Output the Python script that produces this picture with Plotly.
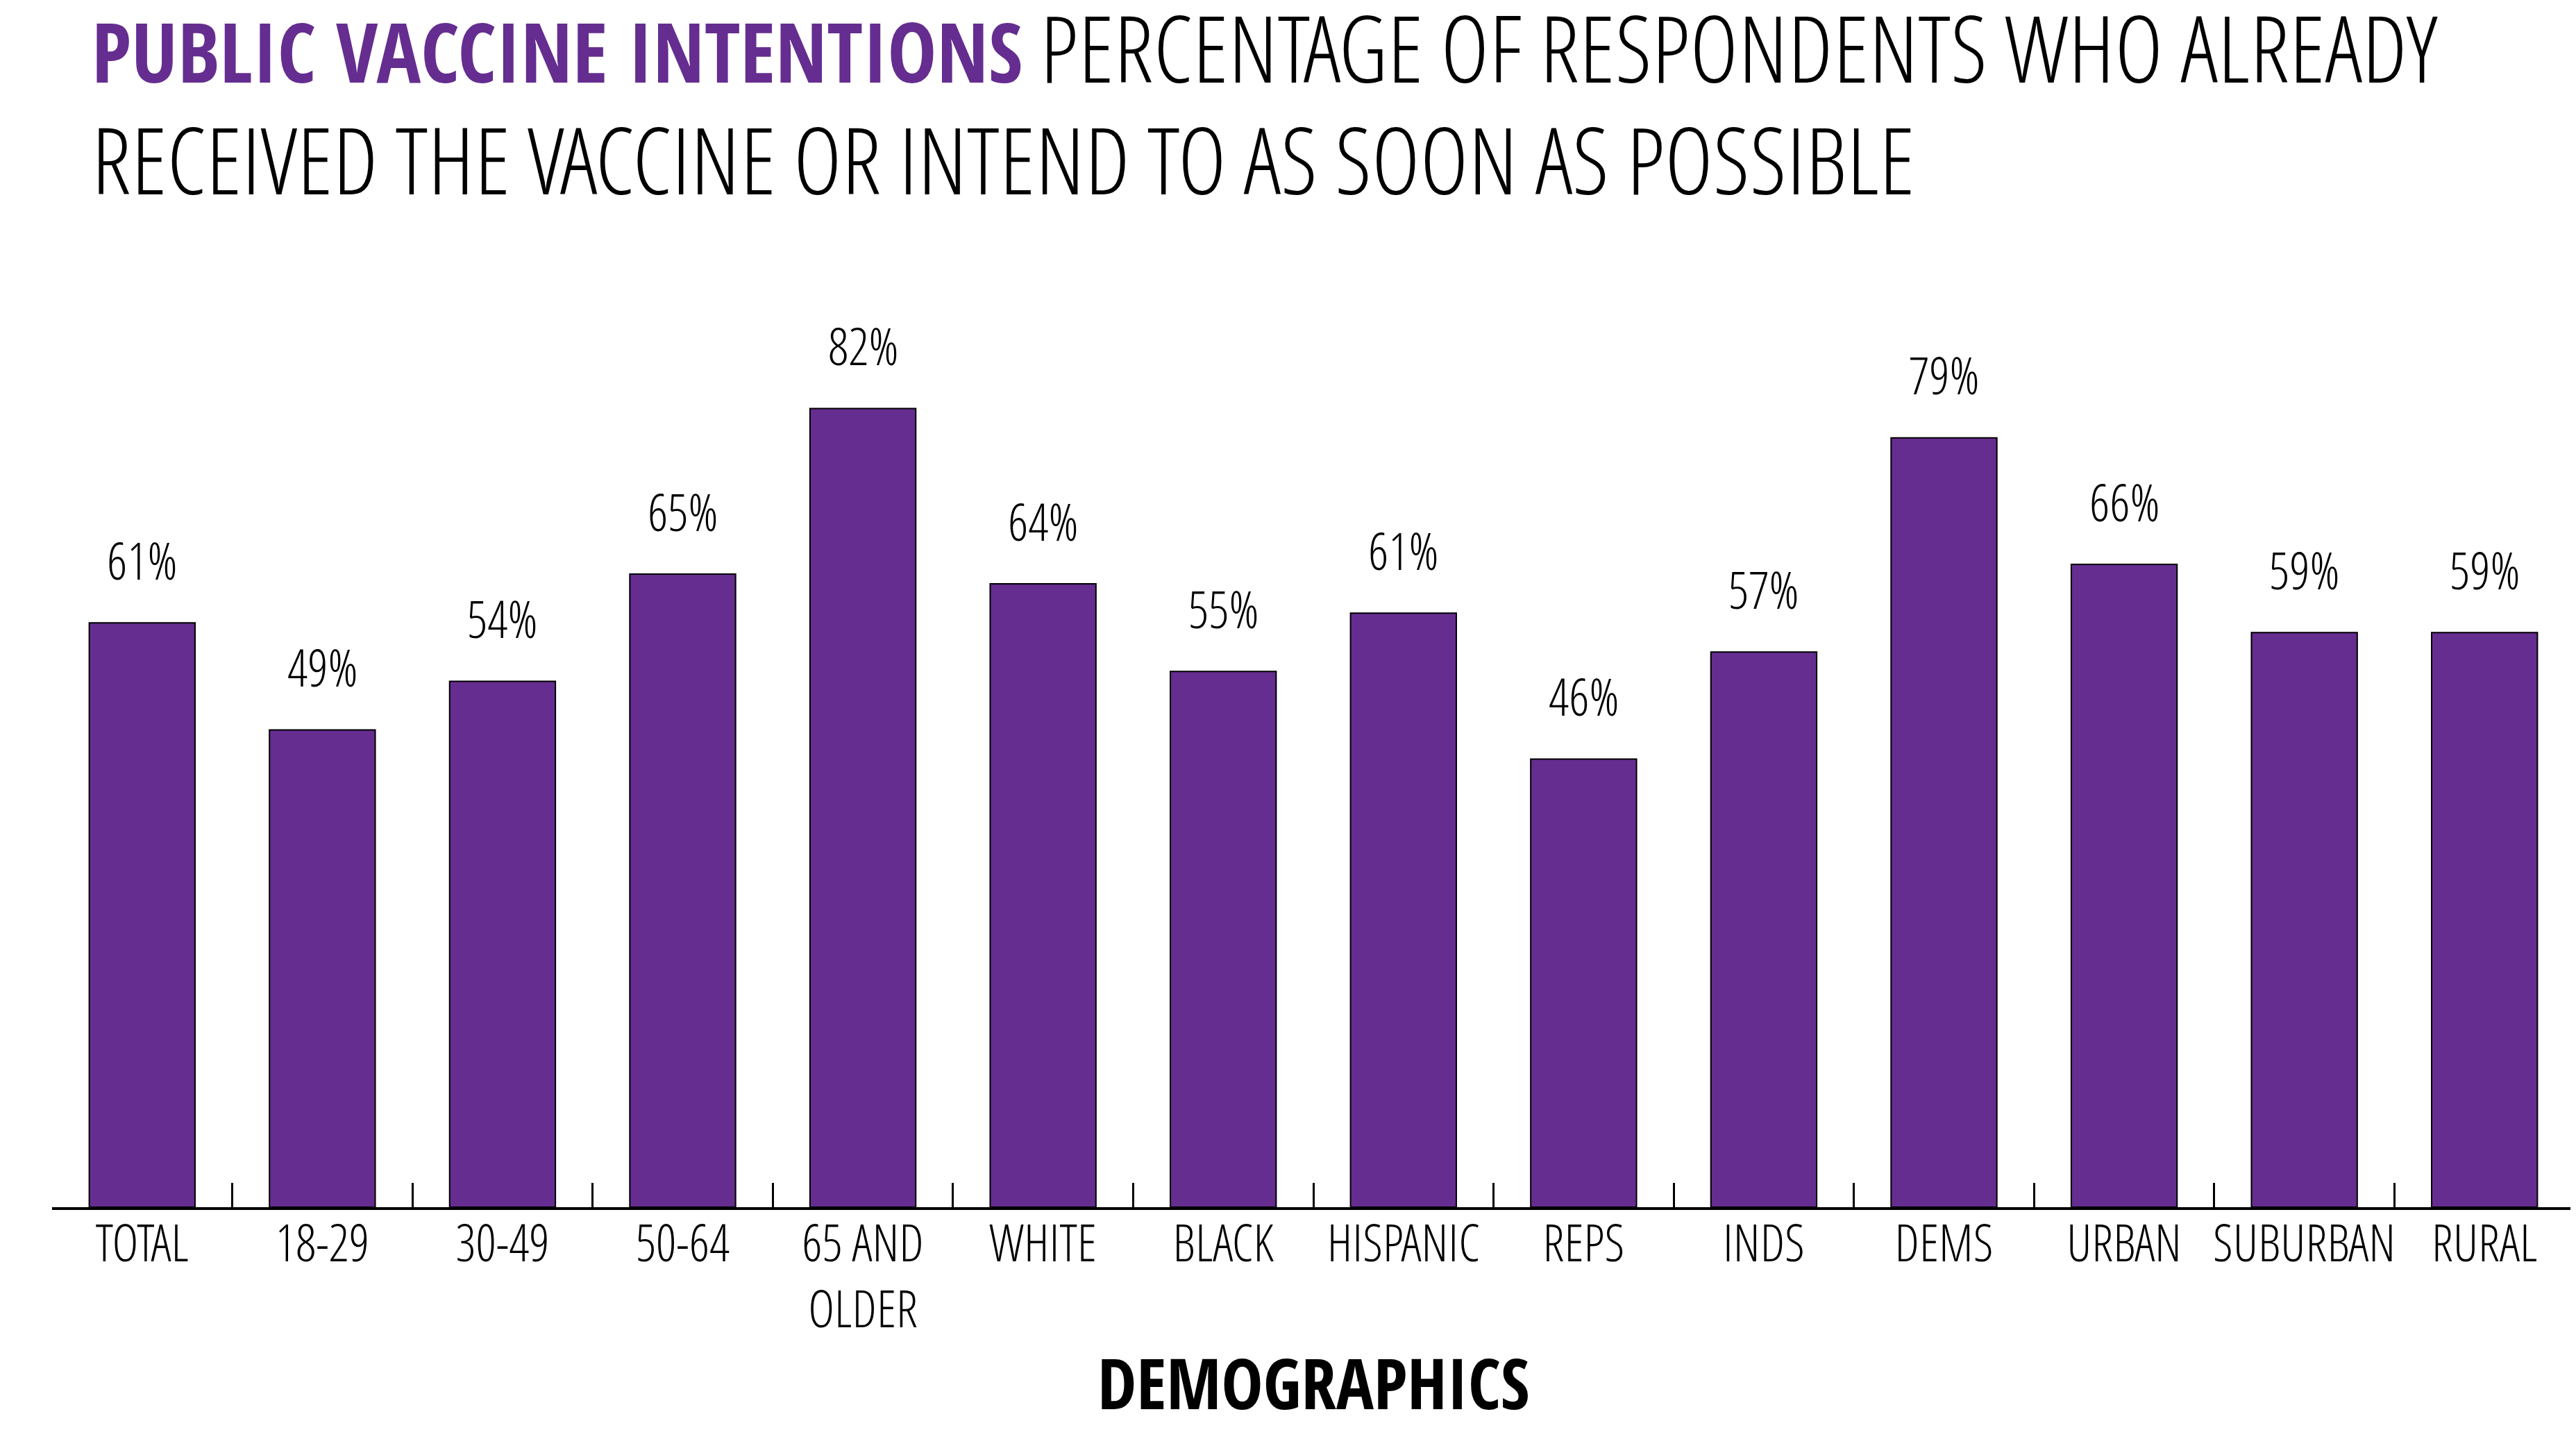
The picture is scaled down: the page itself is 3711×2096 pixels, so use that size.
import plotly.graph_objects as go

categories = ["TOTAL", "18-29", "30-49", "50-64", "65 AND<br>OLDER", "WHITE", "BLACK",
              "HISPANIC", "REPS", "INDS", "DEMS", "URBAN", "SUBURBAN", "RURAL"]
values = [60, 49, 54, 65, 82, 64, 55, 61, 46, 57, 79, 66, 59, 59]
labels = ["61%", "49%", "54%", "65%", "82%", "64%", "55%", "61%", "46%", "57%", "79%", "66%", "59%", "59%"]

PURPLE = "#652D90"
LIGHT = "Open Sans Condensed Light"
BOLD = "Open Sans Condensed"

# page body has an 8px margin; compensate so the picture lands where the reference does
OFF = 8
W, H = 3711 - OFF, 2096 - OFF
ML, MR, MT, MB = 75 - OFF, 2, 336 - OFF, 357
plot_h = H - MT - MB
plot_w = W - ML - MR


def py(px):
    """paper y for an absolute page-pixel y (reference coordinates)"""
    return 1 + (MT - (px - OFF)) / plot_h


def pxx(px):
    return (px - OFF - ML) / plot_w


xs = list(range(len(categories)))

fig = go.Figure()
fig.add_trace(go.Bar(
    x=xs, y=values,
    marker=dict(color=PURPLE, line=dict(color="black", width=2)),
    hoverinfo="skip",
))

anns = []
for xi, v, lab in zip(xs, values, labels):
    anns.append(dict(x=xi, y=v, xref="x", yref="y", text=lab, showarrow=False,
                     xanchor="center", yanchor="middle", yshift=91,
                     font=dict(family=LIGHT, size=73, color="black")))

anns.append(dict(
    x=pxx(130), y=py(67), xref="paper", yref="paper",
    xanchor="left", yanchor="middle", showarrow=False,
    text=('<span style="font-family:Open Sans Condensed;font-weight:bold;color:%s;font-size:119px">'
          'PUBLIC VACCINE INTENTIONS</span> PERCENTAGE OF RESPONDENTS WHO ALREADY') % PURPLE,
    font=dict(family=LIGHT, size=134, color="black")))
anns.append(dict(
    x=pxx(130), y=py(228), xref="paper", yref="paper",
    xanchor="left", yanchor="middle", showarrow=False,
    text="RECEIVED THE VACCINE OR INTEND TO AS SOON AS POSSIBLE",
    font=dict(family=LIGHT, size=134, color="black")))
anns.append(dict(
    x=0.5, y=py(1991), xref="paper", yref="paper",
    xanchor="center", yanchor="middle", showarrow=False,
    text="DEMOGRAPHICS",
    font=dict(family=BOLD, size=101, color="black")))

fig.update_layout(
    width=W, height=H,
    margin=dict(l=ML, r=MR, t=MT, b=MB),
    paper_bgcolor="white", plot_bgcolor="white",
    bargap=0.413,
    showlegend=False,
    annotations=anns,
    xaxis=dict(
        range=[-0.5, len(categories) - 0.5],
        tickmode="array", tickvals=xs, ticktext=categories,
        ticks="", showgrid=False, zeroline=False,
        showline=True, linecolor="black", linewidth=4,
        ticklabelstandoff=-14,
        tickfont=dict(family=LIGHT, size=73, color="black"),
        minor=dict(tickmode="array", tickvals=[i + 0.5 for i in xs],
                   ticks="inside", ticklen=35, tickwidth=3, tickcolor="black", showgrid=False),
    ),
    yaxis=dict(range=[0, 100], visible=False, showgrid=False, zeroline=False, fixedrange=True),
)

fig.write_html("out.html")
